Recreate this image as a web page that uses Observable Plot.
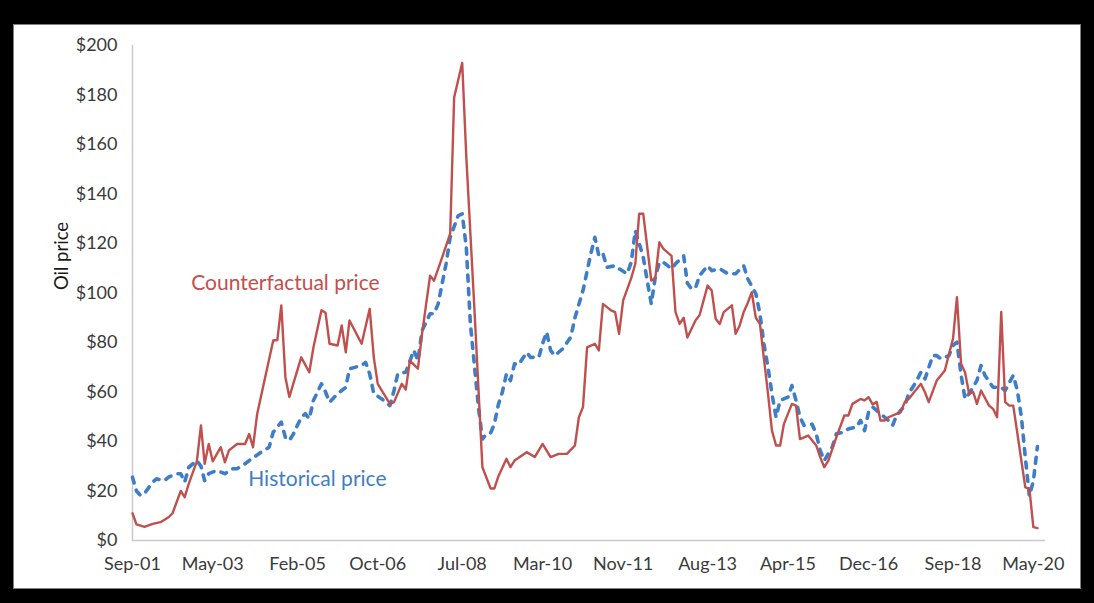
<!DOCTYPE html>
<html>
<head>
<meta charset="utf-8">
<script src="https://cdn.jsdelivr.net/npm/d3@7"></script>
<script src="https://cdn.jsdelivr.net/npm/@observablehq/plot@0.6"></script>
<style>
  html, body { margin: 0; padding: 0; background: #000; width: 1094px; height: 603px; overflow: hidden; }
  #panel { position: absolute; left: 13px; top: 24px; width: 1068px; height: 565px; background: #fff; border: 1px solid #808080; box-sizing: border-box; }
  #chart { position: absolute; left: 0; top: 0; }
  #ylabel { position: absolute; left: 61px; top: 256px; transform: translate(-50%, -50%) rotate(-90deg); font-family: Lato, sans-serif; font-size: 18.5px; color: #1a1a1a; white-space: nowrap; }
</style>
</head>
<body>
<div id="panel"></div>
<div id="chart"></div>
<div id="ylabel">Oil price</div>
<script>
// ---- Data (monthly, $ per barrel) ----
const counterfactualDates = [
  "2001-09","2001-10","2001-12","2002-02","2002-04","2002-06","2002-07","2002-09","2002-10","2002-11",
  "2003-01","2003-02","2003-03","2003-04","2003-05","2003-07","2003-08","2003-09","2003-11","2004-01",
  "2004-02","2004-03","2004-04","2004-06","2004-08","2004-09","2004-10","2004-11","2004-12","2005-03",
  "2005-05","2005-06","2005-08","2005-09","2005-10","2005-12","2006-01","2006-02","2006-03","2006-06",
  "2006-08","2006-09","2006-10","2006-11","2007-01","2007-02","2007-04","2007-05","2007-06","2007-08",
  "2007-09","2007-11","2007-12","2008-02","2008-04","2008-05","2008-07","2008-08","2008-10","2008-12",
  "2009-02","2009-03","2009-04","2009-06","2009-07","2009-08","2009-11","2010-01","2010-03","2010-05",
  "2010-07","2010-09","2010-11","2010-12","2011-01","2011-02","2011-04","2011-05","2011-06","2011-08",
  "2011-09","2011-10","2011-11","2012-01","2012-02","2012-03","2012-04","2012-06","2012-07","2012-08",
  "2012-09","2012-11","2012-12","2013-01","2013-02","2013-03","2013-05","2013-06","2013-08","2013-09",
  "2013-10","2013-11","2013-12","2014-02","2014-03","2014-04","2014-05","2014-06","2014-07","2014-08",
  "2014-09","2014-11","2014-12","2015-01","2015-02","2015-03","2015-05","2015-06","2015-07","2015-09",
  "2015-11","2015-12","2016-01","2016-02","2016-04","2016-06","2016-07","2016-08","2016-10","2016-11",
  "2016-12","2017-01","2017-02","2017-03","2017-04","2017-05","2017-08","2017-09","2017-10","2017-11",
  "2018-01","2018-02","2018-03","2018-05","2018-06","2018-07","2018-09","2018-10","2018-11","2018-12",
  "2019-01","2019-02","2019-03","2019-04","2019-06","2019-07","2019-08","2019-09","2019-10","2019-11",
  "2019-12","2020-03","2020-04","2020-05","2020-06"
];
const counterfactualValues = [
  11,6.5,5.5,6.7,7.4,9.4,11,20,17.5,23,
  32,46.5,31,39,32,37.7,31.6,36.4,39,39,
  43,37.7,51,66,80.8,81,95,66,58,74,
  68,78,93,92,79.5,78.8,86.9,76,88.9,79.5,
  93.6,74,63.3,60.6,55.2,55.9,63.3,61,72.7,69.4,
  83.5,107,105,114.5,124,179,193,155,94,29.6,
  21,21,26,33,29.6,32.3,35.7,33.7,39,33.7,
  35,35,38.4,49.8,53.9,78,79.5,76.8,95.6,93,
  92.3,83.5,97,106,111.8,132,132,105,106,120.5,
  117.8,115,92.3,87.5,90,82,88.9,91,103,101,
  89.6,87.5,92.3,95,83.5,86.9,92.3,96,100.3,90,
  87.5,59.3,44.4,38.4,38.4,47,55.2,54.5,41,42.4,
  38.4,33.7,29.6,32.3,41.7,50.5,50.5,55.2,57.2,56.6,
  57.9,55,56,48.5,48.5,49.8,51.9,55.9,57.2,59.3,
  63.3,59.9,55.9,64.6,66.7,68.7,81.5,98.3,71.4,68,
  59.3,60,55.2,60.6,54.5,53.2,49.8,92.3,55.9,54.5,
  54.5,21.5,21,5.4,5
];

const historicalDates = [
  "2001-09","2001-10","2001-11","2001-12","2002-02","2002-03","2002-05","2002-06","2002-08","2002-09",
  "2002-10","2002-11","2003-01","2003-02","2003-03","2003-04","2003-06","2003-08","2003-10","2003-11",
  "2004-01","2004-02","2004-05","2004-07","2004-08","2004-10","2004-11","2004-12","2005-01","2005-03",
  "2005-04","2005-05","2005-06","2005-08","2005-09","2005-10","2005-12","2006-02","2006-03","2006-06",
  "2006-07","2006-08","2006-09","2006-11","2007-01","2007-02","2007-03","2007-05","2007-07","2007-08",
  "2007-09","2007-11","2007-12","2008-01","2008-03","2008-04","2008-06","2008-07","2008-08","2008-09",
  "2008-11","2008-12","2009-01","2009-02","2009-03","2009-04","2009-05","2009-06","2009-07","2009-08",
  "2009-09","2009-11","2009-12","2010-02","2010-03","2010-04","2010-05","2010-06","2010-08","2010-10",
  "2010-11","2011-01","2011-03","2011-04","2011-05","2011-06","2011-07","2011-09","2011-10","2011-12",
  "2012-01","2012-02","2012-04","2012-05","2012-06","2012-07","2012-08","2012-09","2012-11","2012-12",
  "2013-02","2013-03","2013-04","2013-05","2013-06","2013-08","2013-09","2013-11","2014-01","2014-03",
  "2014-05","2014-06","2014-08","2014-09","2014-10","2014-11","2014-12","2015-01","2015-02","2015-04",
  "2015-05","2015-06","2015-07","2015-08","2015-10","2015-11","2015-12","2016-01","2016-03","2016-04",
  "2016-06","2016-07","2016-09","2016-10","2016-11","2016-12","2017-01","2017-03","2017-05","2017-06",
  "2017-07","2017-09","2017-10","2017-12","2018-01","2018-02","2018-04","2018-05","2018-06","2018-08",
  "2018-09","2018-10","2018-11","2018-12","2019-01","2019-03","2019-04","2019-05","2019-07","2019-09",
  "2019-10","2019-12","2020-01","2020-02","2020-03","2020-04","2020-05","2020-06"
];
const historicalValues = [
  25.6,20,18.2,19,23.6,24.9,24.2,25.6,27,27,
  23.6,29.6,32.3,30,24.2,27,28.3,27,29,29,
  31,32.3,35.7,37.7,43.8,47.8,41.7,40.4,43.1,49.8,
  51.2,49.2,56.6,63.3,60,55.9,59.3,61.9,69.4,70.7,
  72,67.3,59.3,57.2,54.5,60.6,67.3,68,76.8,72.7,
  84.8,91.6,91.6,95.6,111.8,122.5,131.3,132,118.5,87.5,
  53.9,41,43.1,43.5,47,55,60,67.3,64.6,71.4,
  71,76,74,74,79.5,84.2,76.8,74.7,77.5,82.2,
  90,101,115.8,122.5,115,116,110.4,111,109.8,107.8,
  112.4,125.2,114.5,105,95.6,106.4,112.4,112.4,109.8,111.8,
  115,104,101.7,102,107,111,109,109.8,107.8,107.8,
  111,105.7,99.7,91.6,79.5,70,59.3,49.8,56.6,57.9,
  62.6,56.6,49.8,46.5,47,43.1,36.4,32.3,37.7,43.1,
  43.8,45.1,45.8,48.5,44.4,51.9,53.9,51.2,48.5,46.5,
  50.5,54.5,59.3,64.6,68,65.3,74.7,74.7,73.4,74.7,
  78.8,80.1,67,57.2,59.3,64.6,70.7,66.7,61.9,61.9,
  60.6,66.7,60.6,49.8,33.7,18,24,38
];

const xTickDates = ["2001-09","2003-05","2005-02","2006-10","2008-07","2010-03","2011-11","2013-08","2015-04","2016-12","2018-09","2020-05"];
const yTickValues = [0,20,40,60,80,100,120,140,160,180,200];
const xDomainDates = ["2001-09","2020-08"];

const annotationTexts = ["Counterfactual price","Historical price"];
const annotationDates = ["2004-11","2005-07"];
const annotationValues = [104,24.6];

// ---- Build ----
const parse = d3.utcParse("%Y-%m");
const counterfactual = counterfactualDates.map((d, i) => ({date: parse(d), value: counterfactualValues[i]}));
const historical = historicalDates.map((d, i) => ({date: parse(d), value: historicalValues[i]}));
const annotations = annotationTexts.map((t, i) => ({text: t, date: parse(annotationDates[i]), value: annotationValues[i]}));
const xDomain = xDomainDates.map(parse);

const RED = "#c0504d";
const BLUE = "#3f7ec6";
const AXIS = "#c9c9c9";

const chart = Plot.plot({
  width: 1094,
  height: 603,
  marginLeft: 132,
  marginRight: 49,
  marginTop: 45,
  marginBottom: 63,
  style: {background: "transparent", fontFamily: "Lato, sans-serif", fontSize: "18px", color: "#3a3a3a"},
  x: {type: "utc", domain: xDomain},
  y: {domain: [0, 200]},
  marks: [
    Plot.ruleY([0], {stroke: AXIS, strokeWidth: 1.5}),
    Plot.ruleX([xDomain[0]], {stroke: AXIS, strokeWidth: 1.5}),
    Plot.line(historical, {x: "date", y: "value", stroke: BLUE, strokeWidth: 3.6, strokeDasharray: "6,7.5", strokeLinecap: "round", strokeLinejoin: "round"}),
    Plot.line(counterfactual, {x: "date", y: "value", stroke: RED, strokeWidth: 2.4, strokeLinejoin: "round"}),
    Plot.axisX({ticks: xTickDates.map(parse), tickFormat: d3.utcFormat("%b-%y"), tickSize: 0, tickPadding: 17, label: null}),
    Plot.axisY({ticks: yTickValues, tickFormat: d => "$" + d, tickSize: 0, tickPadding: 15, label: null}),
    Plot.text(annotations, {x: "date", y: "value", text: "text", fill: (d, i) => i === 0 ? RED : BLUE, fontSize: 21, textAnchor: "middle"})
  ]
});
document.getElementById("chart").appendChild(chart);
</script>
</body>
</html>
